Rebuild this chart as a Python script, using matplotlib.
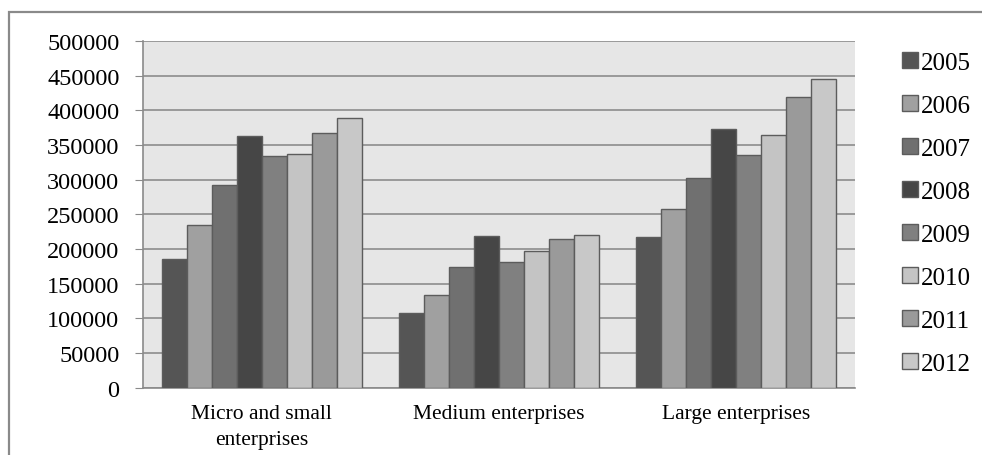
import numpy as np
import matplotlib.pyplot as plt
from matplotlib.patches import Rectangle

# dados
categorias = ['Micro and small\nenterprises', 'Medium enterprises', 'Large enterprises']
anos = ['2005', '2006', '2007', '2008', '2009', '2010', '2011', '2012']
micro = [185500, 235000, 292500, 363500, 333500, 337000, 367000, 389000]
medio = [108000, 133500, 174500, 219000, 182000, 196500, 215000, 220500]
grande = [217500, 257500, 302500, 372500, 335000, 365000, 419000, 444500]
cores = ['#555555', '#a0a0a0', '#707070', '#464646', '#808080', '#c4c4c4', '#9a9a9a', '#c8c8c8']

plt.rcParams['font.family'] = ['Liberation Serif', 'DejaVu Serif']

fig = plt.figure(figsize=(9.82, 4.56), dpi=100)
ax = fig.add_axes([143 / 982, 1 - 388.7 / 456, 712 / 982, 346.7 / 456])
ax.set_facecolor('#e6e6e6')

# moldura externa
fig.patches.append(Rectangle((9 / 982, -0.1), 1.1, 1 - 13 / 456 + 0.1, transform=fig.transFigure,
                             fill=False, edgecolor='#8a8a8a', lw=1.6))

valores = np.array([micro, medio, grande])
x = np.arange(len(categorias))
largura = 0.843 / len(anos)
for i, ano in enumerate(anos):
    pos = x - 0.843 / 2 + largura * (i + 0.5)
    ax.bar(pos, valores[:, i], largura, color=cores[i], edgecolor='#5c5c5c', lw=1, label=ano, zorder=3)

ax.set_xlim(-0.5, 2.5)
ax.set_ylim(0, 500000)
ax.set_yticks(np.arange(0, 500001, 50000))
ax.set_yticklabels([str(v) for v in range(0, 500001, 50000)], fontsize=17.5)
ax.set_xticks(x)
ax.set_xticklabels(categorias, fontsize=15.5, linespacing=1.45)
ax.tick_params(axis='x', length=0, pad=12)
ax.tick_params(axis='y', length=6, color='#8a8a8a', pad=11)
ax.yaxis.grid(True, color='#8c8c8c', lw=1.2, zorder=0)
ax.set_axisbelow(True)
for lado in ['top', 'right']:
    ax.spines[lado].set_visible(False)
for lado in ['left', 'bottom']:
    ax.spines[lado].set_color('#8a8a8a')
    ax.spines[lado].set_linewidth(1.2)

ax.legend(loc='upper left', bbox_to_anchor=(902 / 982, 1 - 53 / 456), bbox_transform=fig.transFigure,
          frameon=False, fontsize=18, handlelength=0.62, handleheight=0.62, handletextpad=0.12,
          labelspacing=0.84, borderpad=0, borderaxespad=0)

fig.savefig('out.png', dpi=100)
